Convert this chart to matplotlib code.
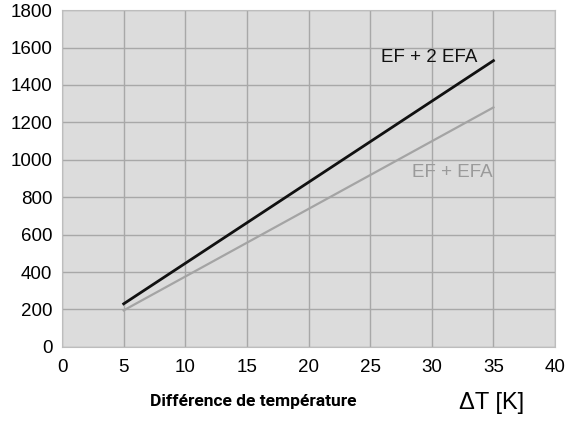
import matplotlib.pyplot as plt

delta_t = [5, 35]
ef_2efa = [230, 1530]
ef_efa = [195, 1280]

x_ticks = [0, 5, 10, 15, 20, 25, 30, 35, 40]
y_ticks = [0, 200, 400, 600, 800, 1000, 1200, 1400, 1600, 1800]

plt.rcParams["font.family"] = ["Liberation Sans", "DejaVu Sans"]

fig = plt.figure(figsize=(5.8, 4.24), dpi=100)
ax = fig.add_axes([0.107, 0.182, 0.85, 0.794])
ax.set_facecolor("#dcdcdc")

ax.plot(delta_t, ef_2efa, color="#111111", lw=2)
ax.plot(delta_t, ef_efa, color="#a4a4a4", lw=1.6)

ax.text(33.7, 1545, "EF + 2 EFA", color="#111111", fontsize=13.5, ha="right", va="center")
ax.text(34.9, 933, "EF + EFA", color="#9a9a9a", fontsize=13.5, ha="right", va="center")

ax.set_xlim(0, 40)
ax.set_ylim(0, 1800)
ax.set_xticks(x_ticks)
ax.set_yticks(y_ticks)
ax.grid(True, color="#a8a8a8", lw=1)
ax.set_axisbelow(True)
for s in ax.spines.values():
    s.set_color("#bdbdbd")
ax.tick_params(axis="y", length=0, labelsize=13.5, pad=7)
ax.tick_params(axis="x", length=0, labelsize=13.5, pad=9)

fig.text(0.437, 0.052, "Différence de température", fontsize=12.5, fontweight="bold",
         family=["Liberation Sans Narrow", "Roboto", "DejaVu Sans"], ha="center", va="center")
fig.text(0.847, 0.05, "ΔT [K]", fontsize=17, ha="center", va="center")

fig.savefig("out.png", dpi=100, facecolor="white")
